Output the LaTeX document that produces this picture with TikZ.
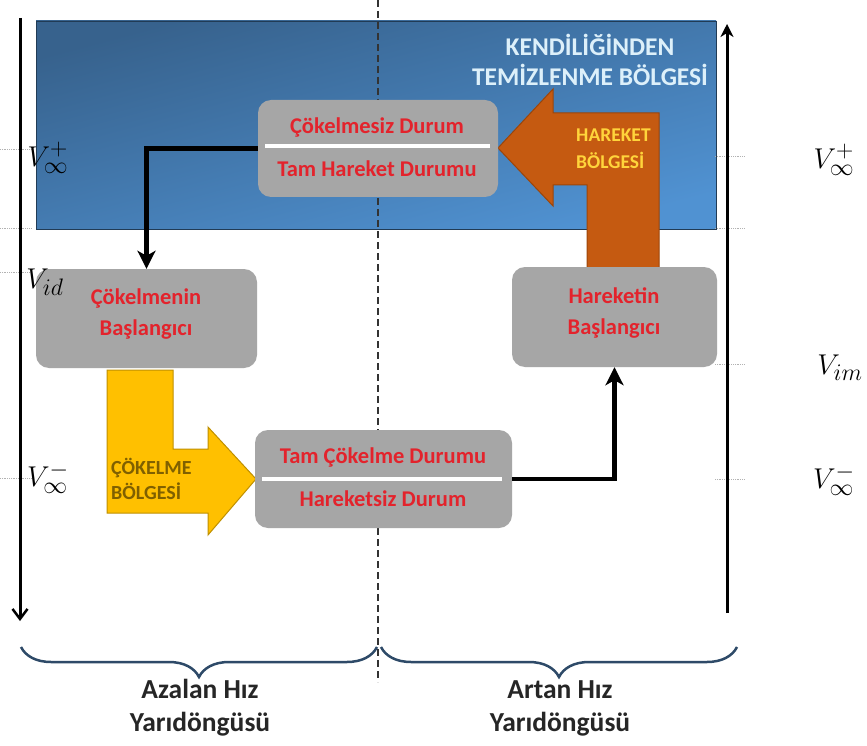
\documentclass[tikz,border=0pt]{standalone}
\usepackage{fontspec}
\setmainfont{Carlito}
\usetikzlibrary{arrows.meta,decorations.pathreplacing,calc}
\definecolor{blueA}{HTML}{37628D}
\definecolor{blueB}{HTML}{5092D2}
\definecolor{boxgray}{HTML}{A6A6A6}
\definecolor{redtxt}{HTML}{E3232C}
\definecolor{yellowA}{HTML}{FFC000}
\definecolor{yellowD}{HTML}{BF9000}
\definecolor{olive}{HTML}{7F6000}
\definecolor{orangeA}{HTML}{C55A11}
\definecolor{orangeD}{HTML}{9C4509}
\definecolor{yeltxt}{HTML}{FFD43B}
\definecolor{toptxt}{HTML}{DDF0FA}
\definecolor{bracecol}{HTML}{2E4A68}
\tikzset{
  graybox/.style={draw=none, fill=boxgray, rounded corners=13pt, inner sep=0pt},
  boxtxt/.style={text=redtxt, font=\fontsize{22.5}{31}\selectfont\bfseries, align=center, inner sep=0pt},
  flow/.style={line width=4.5pt, -{Stealth[length=18pt,width=18pt,inset=5pt]}},
  axisline/.style={line width=3pt},
  tick/.style={densely dotted, gray!60, line width=0.8pt},
  vlabel/.style={font=\Huge, scale=1.15, inner sep=0pt},
  sepline/.style={white, line width=3.5pt},
  bracestyle/.style={decorate, decoration={brace, amplitude=30pt}, line width=2.5pt, draw=bracecol},
  bottxt/.style={font=\fontsize{27.5}{33}\selectfont\bfseries, align=center, text=black!85},
}
\begin{document}
\begin{tikzpicture}[x=1pt,y=-1pt]
\useasboundingbox (0,0) rectangle (867,746);
\fill[white] (0,0) rectangle (867,746);
% blue region
\shade[top color=blueA, bottom color=blueB, shading angle=15] (36,21) rectangle (716,229);
\draw[blueA!60!black, line width=0.8pt] (36,21) rectangle (716,229);
\node[text=toptxt, font=\fontsize{25.5}{30}\selectfont\bfseries, align=center, inner sep=0pt] (kend) at (590,60) {KENDİLİĞİNDEN\\TEMİZLENME BÖLGESİ};
% dashed divider
\coordinate (dtop) at (378,0);
\coordinate (dbot) at (378,682);
\draw[dashed, dash pattern=on 7pt off 4pt, line width=1.5pt, black!80] (dtop) -- (dbot);
% ticks
\foreach \yy in {149,228,272,478} \draw[tick] (0,\yy) -- (32,\yy);
\foreach \yy in {156,228,364,479} \draw[tick] (715,\yy) -- (745,\yy);
% axis arrows
\coordinate (Ltop) at (20,18);
\coordinate (Lbot) at (20,621);
\draw[axisline, -{Straight Barb[length=10pt,width=15pt,line width=2.5pt]}] (Ltop) -- (Lbot);
\coordinate (Rbot) at (727,613);
\coordinate (Rtop) at (727,24);
\draw[axisline, -{Stealth[length=13pt,width=13pt,inset=4pt]}] (Rbot) -- (Rtop);
% yellow arrow
\filldraw[fill=yellowA, draw=yellowD, line width=1pt] (107,370) -- (173,370) -- (173,449) -- (208,449) -- (208,427) -- (256,479) -- (208,535) -- (208,513) -- (107,513) -- cycle;
\node[text=olive, font=\fontsize{20}{25}\selectfont\bfseries, align=left, anchor=west, inner sep=0pt] (cokb) at (111,479) {ÇÖKELME\\BÖLGESİ};
% orange arrow
\filldraw[fill=orangeA, draw=orangeD, line width=1pt] (659,113) -- (553,113) -- (553,89) -- (498,148) -- (553,206) -- (553,185) -- (587,185) -- (587,268) -- (659,268) -- cycle;
\node[text=yeltxt, font=\fontsize{19.5}{27}\selectfont\bfseries, align=left, anchor=west, inner sep=0pt] (harb) at (576,149) {HAREKET\\BÖLGESİ};
% boxes
\node[graybox, minimum width=240pt, minimum height=97pt] (top) at (378,148.5) {};
\node[graybox, minimum width=221pt, minimum height=99pt] (cb) at (146.5,318.5) {};
\node[graybox, minimum width=205pt, minimum height=100pt] (hb) at (614.5,317) {};
\node[graybox, minimum width=257pt, minimum height=98pt] (bot) at (383.5,479) {};
\draw[sepline] (265,146) -- (490,146);
\draw[sepline] (262,479) -- (502,479);
\node[boxtxt] (t1) at (377,127) {Çökelmesiz Durum};
\node[boxtxt] (t2) at (377,169) {Tam Hareket Durumu};
\node[boxtxt] (b1) at (383,457) {Tam Çökelme Durumu};
\node[boxtxt] (b2) at (383,499) {Hareketsiz Durum};
\node[boxtxt] (cbt) at (146,314) {Çökelmenin\\Başlangıcı};
\node[boxtxt] (hbt) at (614,313) {Hareketin\\Başlangıcı};
% flow arrows
\draw[flow] (top.west) -| (cb.north);
\draw[flow] (bot.east) -| (hb.south);
% level labels
\node[vlabel] (vl1) at (48,158) {$V_{\infty}^{+}$};
\node[vlabel] (vl2) at (45,282) {$V_{id}$};
\node[vlabel] (vl3) at (48,478) {$V_{\infty}^{-}$};
\node[vlabel] (vr1) at (834,160) {$V_{\infty}^{+}$};
\node[vlabel] (vr2) at (840,368) {$V_{im}$};
\node[vlabel] (vr3) at (834,480) {$V_{\infty}^{-}$};
% braces
\coordinate (bl1) at (21,647);
\coordinate (bl2) at (377,647);
\coordinate (br1) at (381,647);
\coordinate (br2) at (737,647);
\draw[bracestyle] (bl2) -- (bl1);
\draw[bracestyle] (br2) -- (br1);
\node[bottxt] (az) at (200,708) {Azalan Hız\\Yarıdöngüsü};
\node[bottxt] (ar) at (560,708) {Artan Hız\\Yarıdöngüsü};
\end{tikzpicture}
\end{document}
